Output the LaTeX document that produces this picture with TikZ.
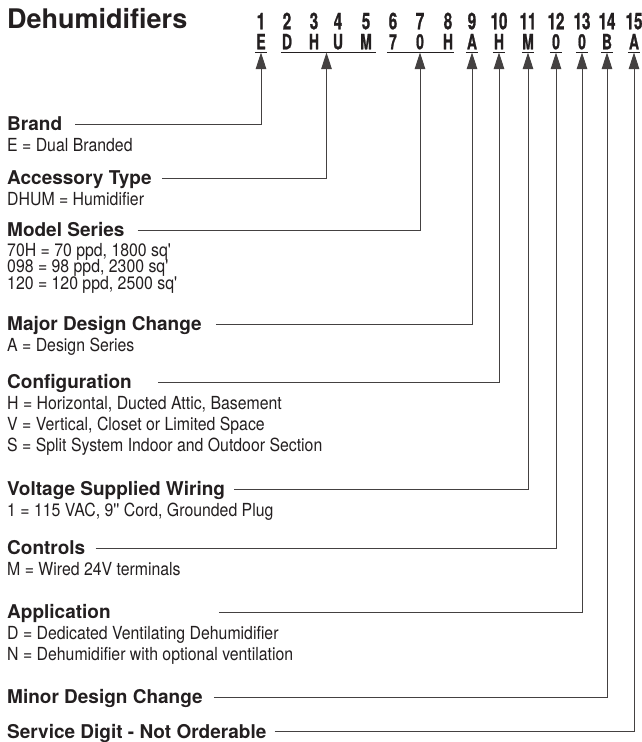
\documentclass[tikz,border=0pt]{standalone}
\usepackage{fontspec}
\setmainfont{TeX Gyre Heros}
\newfontfamily\condfont{TeX Gyre Heros}[FakeStretch=0.88]
\newfontfamily\narrowfont{TeX Gyre Heros}[FakeStretch=0.66, FakeBold=1]
\usetikzlibrary{arrows.meta, calc, positioning}
\definecolor{ink}{HTML}{231F20}
\tikzset{
  title/.style={font=\bfseries\fontsize{27}{27}\selectfont, text=ink, anchor=base west, inner sep=0pt},
  digit/.style={font=\narrowfont\bfseries\fontsize{23}{23}\selectfont, text=ink, anchor=base, inner sep=0pt},
  code/.style={font=\narrowfont\bfseries\fontsize{21}{21}\selectfont, text=ink, anchor=base, inner sep=0pt,
    minimum width=12pt, text height=15pt, text depth=3pt},
  field/.style={font=\bfseries\fontsize{19}{19}\selectfont, text=ink, anchor=west, inner sep=0pt,
    text height=13.6pt, text depth=0pt},
  values/.style={font=\condfont\fontsize{18}{21}\selectfont, text=ink, anchor=north west, inner sep=0pt, align=left},
  lead/.style={draw=ink!85, line width=1pt, -{Triangle[length=16.5pt,width=10.5pt]}},
  uline/.style={draw=ink, line width=1pt}
}
\begin{document}
\begin{tikzpicture}[x=1pt,y=-1pt]
\useasboundingbox (0,0) rectangle (642,742);
\node[title] (title) at (7,28) {Dehumidifiers};
% digit numbers and the code letters
\foreach \i/\x/\c in {1/261/E,2/287/D,3/314/H,4/338/U,5/366/M,6/393/7,7/420/0,8/448/H,
                      9/472/A,10/499/H,11/528/M,12/556/0,13/582/0,14/607/B,15/634/A}{
  \node[digit] (d\i) at (\x,29.3) {\i};
  \node[code] (c\i) at (\x,49.3) {\c};
}
\draw[uline] (c1.south west) -- (c1.south east);
\draw[uline] (c2.south west) -- ([xshift=4pt]c5.south east);
\draw[uline] (c6.south west) -- (c8.south east);
\foreach \i in {9,...,15}
  \draw[uline] (c\i.south west) -- (c\i.south east);
\coordinate (dhum) at ($(c2.south)!.5!(c5.south)$);

% fields
\node[field] (brand) at (7,124) {Brand};
\node[values] (brandv) at (7,138) {E = Dual Branded};
\node[field] (access) at (7,178) {Accessory Type};
\node[values] (accessv) at (7,192) {DHUM = Humidifier};
\node[field] (model) at (7,230) {Model Series};
\node[values] (modelv1) at (7,243) {70H = 70 ppd, 1800 sq'};
\node[values] (modelv2) at (7,259.5) {098 = 98 ppd, 2300 sq'};
\node[values] (modelv3) at (7,276) {120 = 120 ppd, 2500 sq'};
\node[field] (major) at (7,324) {Major Design Change};
\node[values] (majorv) at (7,338) {A = Design Series};
\node[field] (config) at (7,382) {Configuration};
\node[values] (configv) at (7,396) {H = Horizontal, Ducted Attic, Basement\\V = Vertical, Closet or Limited Space\\S = Split System Indoor and Outdoor Section};
\node[field] (volt) at (7,489) {Voltage Supplied Wiring};
\node[values] (voltv) at (7,503) {1 = 115 VAC, 9'' Cord, Grounded Plug};
\node[field] (ctrl) at (7,548) {Controls};
\node[values] (ctrlv) at (7,562) {M = Wired 24V terminals};
\node[field] (app) at (7,612) {Application};
\node[values] (appv) at (7,626) {D = Dedicated Ventilating Dehumidifier\\N = Dehumidifier with optional ventilation};
\node[field] (minor) at (7,697) {Minor Design Change};
\node[field] (serv) at (7,731.5) {Service Digit - Not Orderable};

% leaders
\draw[lead, shorten <=13pt] (brand.east) -| (c1.south);
\draw[lead, shorten <=10pt] (access.east) -| (dhum);
\draw[lead, shorten <=13pt] (model.east) -| (c7.south);
\draw[lead, shorten <=14pt] (major.east) -| (c9.south);
\draw[lead, shorten <=26pt] (config.east) -| (c10.south);
\draw[lead, shorten <=9pt] (volt.east) -| (c11.south);
\draw[lead, shorten <=10pt] (ctrl.east) -| (c12.south);
\draw[lead, shorten <=108pt] (app.east) -| (c13.south);
\draw[lead, shorten <=11pt] (minor.east) -| (c14.south);
\draw[lead, shorten <=8pt] (serv.east) -| (c15.south);
\end{tikzpicture}
\end{document}
